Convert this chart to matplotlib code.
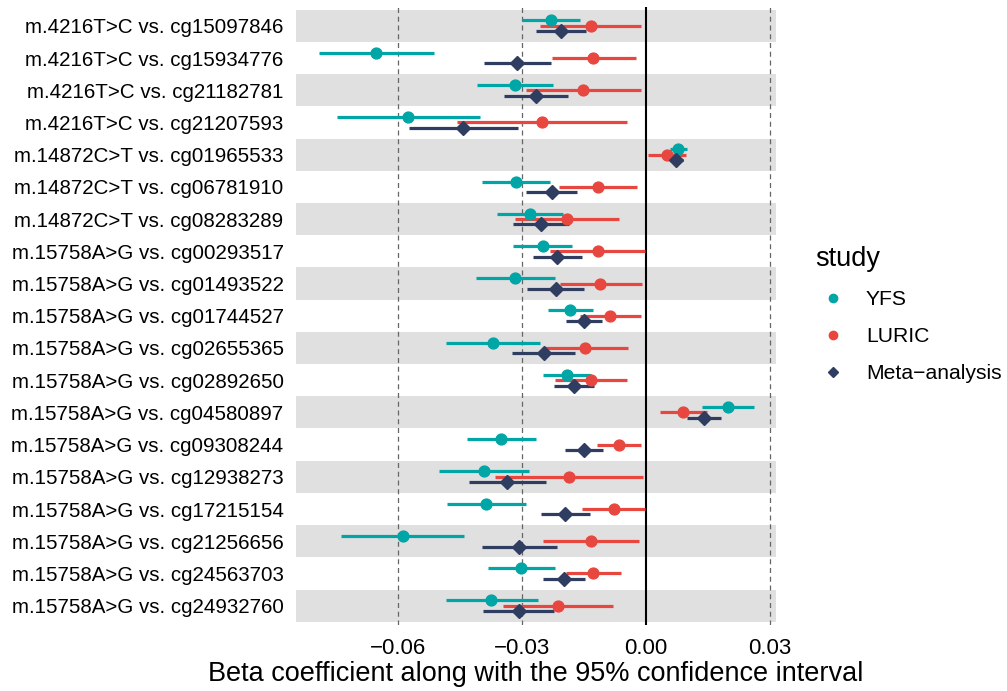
import matplotlib
matplotlib.use("Agg")
import matplotlib.pyplot as plt
from matplotlib.lines import Line2D
import numpy as np

plt.rcParams['font.family'] = ['Liberation Sans', 'DejaVu Sans']

labels = [
    "m.4216T>C vs. cg15097846",
    "m.4216T>C vs. cg15934776",
    "m.4216T>C vs. cg21182781",
    "m.4216T>C vs. cg21207593",
    "m.14872C>T vs. cg01965533",
    "m.14872C>T vs. cg06781910",
    "m.14872C>T vs. cg08283289",
    "m.15758A>G vs. cg00293517",
    "m.15758A>G vs. cg01493522",
    "m.15758A>G vs. cg01744527",
    "m.15758A>G vs. cg02655365",
    "m.15758A>G vs. cg02892650",
    "m.15758A>G vs. cg04580897",
    "m.15758A>G vs. cg09308244",
    "m.15758A>G vs. cg12938273",
    "m.15758A>G vs. cg17215154",
    "m.15758A>G vs. cg21256656",
    "m.15758A>G vs. cg24563703",
    "m.15758A>G vs. cg24932760",
]

yfs_beta = [-0.0229, -0.0653, -0.0316, -0.0575, 0.0077, -0.0314, -0.0281, -0.0250, -0.0316, -0.0183,
            -0.0370, -0.0192, 0.0199, -0.0350, -0.0392, -0.0386, -0.0588, -0.0302, -0.0374]
yfs_lo = [-0.0300, -0.0792, -0.0409, -0.0747, 0.0058, -0.0396, -0.0360, -0.0321, -0.0411, -0.0238,
          -0.0483, -0.0250, 0.0137, -0.0433, -0.0502, -0.0482, -0.0737, -0.0383, -0.0484]
yfs_hi = [-0.0160, -0.0514, -0.0224, -0.0402, 0.0100, -0.0232, -0.0200, -0.0180, -0.0221, -0.0129,
          -0.0257, -0.0134, 0.0261, -0.0266, -0.0282, -0.0290, -0.0440, -0.0221, -0.0262]

luric_beta = [-0.0134, -0.0127, -0.0152, -0.0252, 0.0051, -0.0116, -0.0192, -0.0117, -0.0110, -0.0088,
              -0.0147, -0.0134, 0.0091, -0.0065, -0.0187, -0.0078, -0.0134, -0.0128, -0.0213]
luric_lo = [-0.0257, -0.0227, -0.0291, -0.0458, 0.0006, -0.0210, -0.0318, -0.0232, -0.0208, -0.0160,
            -0.0247, -0.0221, 0.0033, -0.0119, -0.0366, -0.0154, -0.0249, -0.0194, -0.0347]
luric_hi = [-0.0012, -0.0024, -0.0012, -0.0045, 0.0096, -0.0021, -0.0064, -0.0003, -0.0009, -0.0012,
            -0.0044, -0.0045, 0.0148, -0.0011, -0.0007, -0.0003, -0.0017, -0.0060, -0.0079]

meta_beta = [-0.0206, -0.0311, -0.0267, -0.0443, 0.0073, -0.0227, -0.0254, -0.0215, -0.0218, -0.0150,
             -0.0246, -0.0175, 0.0141, -0.0150, -0.0335, -0.0196, -0.0306, -0.0198, -0.0308]
meta_lo = [-0.0267, -0.0392, -0.0343, -0.0574, 0.0059, -0.0289, -0.0322, -0.0274, -0.0287, -0.0193,
           -0.0323, -0.0223, 0.0099, -0.0195, -0.0429, -0.0255, -0.0396, -0.0250, -0.0394]
meta_hi = [-0.0146, -0.0229, -0.0189, -0.0310, 0.0091, -0.0166, -0.0187, -0.0154, -0.0149, -0.0106,
           -0.0171, -0.0125, 0.0183, -0.0104, -0.0241, -0.0136, -0.0214, -0.0147, -0.0222]

studies = ["YFS", "LURIC", "Meta-analysis"]
legend_labels = ["YFS", "LURIC", "Meta\u2212analysis"]
colors = {"YFS": "#00A6A6", "LURIC": "#E8473F", "Meta-analysis": "#2F3D60"}
markers = {"YFS": "o", "LURIC": "o", "Meta-analysis": "D"}
offsets = {"YFS": 1/6, "LURIC": 0.0, "Meta-analysis": -1/6}
data = {
    "YFS": (yfs_beta, yfs_lo, yfs_hi),
    "LURIC": (luric_beta, luric_lo, luric_hi),
    "Meta-analysis": (meta_beta, meta_lo, meta_hi),
}

W, H = 1007, 691
fig = plt.figure(figsize=(W / 100, H / 100), dpi=100)
left, right, top, bottom = 296, 776, 6.5, 625
ax = fig.add_axes([left / W, 1 - bottom / H, (right - left) / W, (bottom - top) / H])

n = len(labels)
ypos = np.arange(n, 0, -1)

# alternating bands
for i, y in enumerate(ypos):
    if i % 2 == 0:
        ax.axhspan(y - 0.5, y + 0.5, color="#E0E0E0", lw=0, zorder=0)

for xv in [-0.06, -0.03, 0.03]:
    ax.axvline(xv, color="#666666", lw=0.9, ls=(0, (4, 3)), zorder=1)
ax.axvline(0, color="black", lw=1.5, zorder=2)

for s in studies:
    b, lo, hi = (np.array(a) for a in data[s])
    yy = ypos + offsets[s]
    ax.hlines(yy, lo, hi, color=colors[s], lw=2.3, zorder=3)
    ms = 7.8 if markers[s] == "o" else 7.0
    ax.plot(b, yy, ls="none", marker=markers[s], color=colors[s], ms=ms, zorder=4)

ax.set_xlim(-0.0847, 0.0315)
ax.set_ylim(0.4, n + 0.6)
ax.set_yticks(ypos)
ax.set_yticklabels(labels, fontsize=14.8)
ax.set_xticks([-0.06, -0.03, 0.0, 0.03])
ax.set_xticklabels(["\u22120.06", "\u22120.03", "0.00", "0.03"], fontsize=16)
ax.tick_params(length=0)
ax.tick_params(axis="y", pad=9)
ax.tick_params(axis="x", pad=9.5)
for sp in ax.spines.values():
    sp.set_visible(False)
ax.set_xlabel("Beta coefficient along with the 95% confidence interval", fontsize=19.5, labelpad=1)

handles = [Line2D([], [], ls="none", marker=markers[s], color=colors[s],
                  ms=6 if markers[s] == "o" else 5.5) for s in studies]
leg = fig.legend(handles, legend_labels, title="study",
                 loc="upper left", bbox_to_anchor=(815 / W, 1 - 246 / H), frameon=False,
                 fontsize=15.2, title_fontsize=19.5, handletextpad=0.75, labelspacing=0.86,
                 handlelength=1.67, borderaxespad=0, borderpad=0)
leg._legend_box.align = "left"

fig.savefig("out.png", dpi=100)
